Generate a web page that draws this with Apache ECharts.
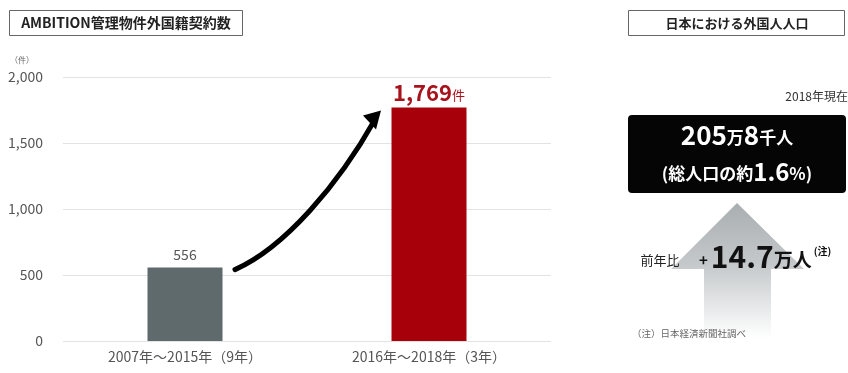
<!DOCTYPE html>
<html><head><meta charset="utf-8">
<script src="https://cdn.jsdelivr.net/npm/echarts@6/dist/echarts.min.js"></script>
<style>html,body{margin:0;padding:0;background:#fff}#c{width:848px;height:373px}</style>
</head><body><div id="c"></div>
<script>
var categories = ['2007年～2015年（9年）', '2016年～2018年（3年）'];
var values = [556, 1769];
var barColors = ['#5f6a6c', '#a8000b'];
var yTicks = [0, 500, 1000, 1500, 2000];

var FONT = '"Noto Sans CJK JP", "Noto Sans", sans-serif';
var chart = echarts.init(document.getElementById('c'));

function rt(size, weight, color, pad) {
  var o = { color: color, fill: color, fontSize: size, fontWeight: weight, fontFamily: FONT };
  if (pad) o.padding = pad;
  return o;
}

var option = {
  animation: false,
  textStyle: { fontFamily: FONT },
  grid: { left: 63, right: 297, top: 77, bottom: 32, containLabel: false },
  xAxis: {
    type: 'category', data: categories,
    axisLine: { show: false }, axisTick: { show: false },
    axisLabel: { color: '#555', fontSize: 14, margin: 9, fontFamily: FONT }
  },
  yAxis: {
    type: 'value', min: yTicks[0], max: yTicks[yTicks.length - 1], interval: 500,
    axisLine: { show: false }, axisTick: { show: false },
    splitLine: { lineStyle: { color: '#e3e3e3' } },
    axisLabel: { color: '#555', fontSize: 14, margin: 20,
      formatter: function (v) { return v.toLocaleString('en-US'); } }
  },
  series: [{
    type: 'bar', barWidth: 75,
    data: values.map(function (v, i) {
      return {
        value: v, itemStyle: { color: barColors[i] },
        label: i === 0 ? {
          show: true, position: 'top', color: '#555', fontSize: 14, distance: 6,
          formatter: function (p) { return p.value.toLocaleString('en-US'); }
        } : {
          show: true, position: 'top', distance: 4,
          formatter: function (p) { return '{n|' + p.value.toLocaleString('en-US') + '}{u|件}'; },
          rich: {
            n: { color: '#a8121c', fontSize: 22, fontWeight: 'bold', fontFamily: FONT },
            u: { color: '#a8121c', fontSize: 13, fontFamily: FONT, padding: [5, 0, 0, 0] }
          }
        }
      };
    })
  }]
};
chart.setOption(option);

var p0 = chart.convertToPixel({ seriesIndex: 0 }, [0, values[0]]);
var p1 = chart.convertToPixel({ seriesIndex: 0 }, [1, values[1]]);
var sx = p0[0] + 50, sy = p0[1] + 2;
var ex = p1[0] - 50, ey = p1[1] + 6;
var graphics = [
  { type: 'rect', shape: { x: 9.5, y: 10.5, width: 233, height: 25 }, style: { fill: '#fff', stroke: '#666', lineWidth: 1 } },
  { type: 'text', x: 126, y: 23, style: { text: 'AMBITION管理物件外国籍契約数', fill: '#222', fontSize: 14, fontWeight: 'bold', fontFamily: FONT, align: 'center', verticalAlign: 'middle' } },
  { type: 'text', x: 22, y: 60, style: { text: '（件）', fill: '#666', fontSize: 8, fontFamily: FONT, align: 'center', verticalAlign: 'middle' } },
  { type: 'bezierCurve', shape: { x1: sx, y1: sy, cpx1: sx + 50, cpy1: sy - 22, cpx2: ex - 40, cpy2: ey + 70, x2: ex - 4, y2: ey + 6 },
    style: { stroke: '#000', lineWidth: 5, fill: null, lineCap: 'round' } },
  { type: 'polygon', shape: { points: [[ex + 2, ey - 3], [ex - 16, ey + 2], [ex - 3, ey + 16]] }, style: { fill: '#000' } },
  { type: 'rect', shape: { x: 628.5, y: 10.5, width: 216, height: 25 }, style: { fill: '#fff', stroke: '#666', lineWidth: 1 } },
  { type: 'text', x: 737, y: 23, style: { text: '日本における外国人人口', fill: '#222', fontSize: 13, fontWeight: 'bold', fontFamily: FONT, align: 'center', verticalAlign: 'middle' } },
  { type: 'text', x: 848, y: 96, style: { text: '2018年現在', fill: '#333', fontSize: 12, fontFamily: FONT, align: 'right', verticalAlign: 'middle' } },
  { type: 'rect', shape: { x: 628, y: 115, width: 218, height: 78, r: 4 }, style: { fill: '#050505' } },
  { type: 'text', x: 737, y: 135, style: { text: '{a|205}{b|万}{a|8}{b|千人}', align: 'center', verticalAlign: 'middle',
      rich: { a: rt(26, 'bold', '#fff'), b: rt(17, 'bold', '#fff', [5, 0, 0, 0]) } } },
  { type: 'text', x: 737, y: 172, style: { text: '{b|(総人口の約}{a|1.6}{b|%)}', align: 'center', verticalAlign: 'middle',
      rich: { a: rt(24, 'bold', '#fff'), b: rt(17, 'bold', '#fff', [3, 0, 0, 0]) } } },
  { type: 'polygon', shape: { points: [[737, 203], [804, 269], [771, 269], [771, 338], [704, 338], [704, 269], [671, 269]] },
    style: { fill: new echarts.graphic.LinearGradient(0, 0, 0, 1, [
      { offset: 0, color: '#a9aeb1' }, { offset: 0.45, color: '#c4c8ca' }, { offset: 1, color: '#ffffff' }]) } },
  { type: 'text', x: 660, y: 260, style: { text: '前年比', fill: '#222', fontSize: 13, fontFamily: FONT, align: 'center', verticalAlign: 'middle' } },
  { type: 'text', x: 699, y: 257, style: { text: '{p|+}{a|14.7}{b|万人}{c|(注)}', align: 'left', verticalAlign: 'middle',
      rich: { p: rt(15, 'bold', '#111', [6, 3, 0, 0]), a: rt(30, 'bold', '#111'),
        b: rt(19, 'bold', '#111', [6, 0, 0, 0]), c: rt(10, 'bold', '#111', [0, 0, 12, 2]) } } },
  { type: 'text', x: 632, y: 333, style: { text: '（注）日本経済新聞社調べ', fill: '#666', fontSize: 9.5, fontFamily: FONT, align: 'left', verticalAlign: 'middle' } }
];
chart.setOption({ graphic: graphics });
</script></body></html>
